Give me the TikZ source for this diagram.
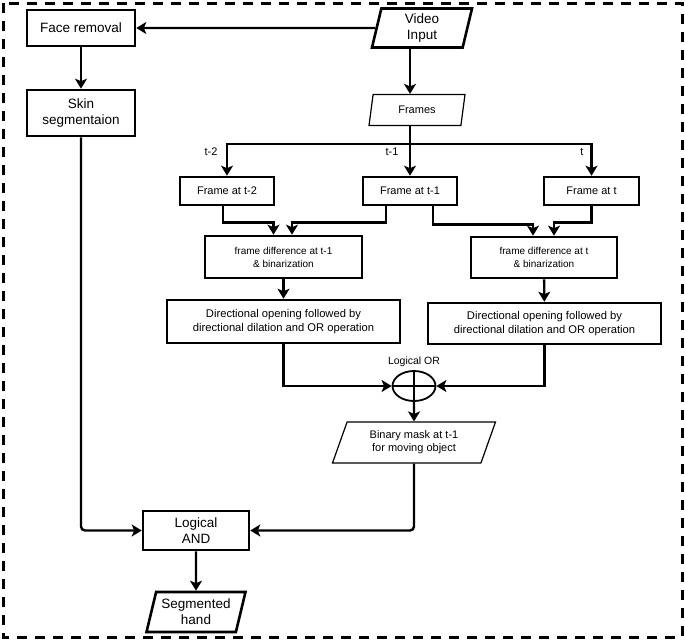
\documentclass[tikz,border=0pt]{standalone}
\usepackage{fontspec}
\setmainfont{Liberation Sans}
\usetikzlibrary{arrows.meta,positioning,shapes.geometric}

\begin{document}
\begin{tikzpicture}[x=1pt,y=-1pt,
    font=\fontsize{11}{13}\selectfont,
    block/.style={draw, line width=2.6pt, align=center, inner sep=2pt},
    bigblock/.style={block, font=\fontsize{13.5}{16}\selectfont},
    para/.style={draw, trapezium, trapezium stretches body, align=center, inner sep=1pt},
    arr/.style={-{Stealth[length=10pt,width=12pt,inset=2.5pt]}, line width=2.4pt}]

      \useasboundingbox (0,0) rectangle (685,640);
      \draw[line width=3pt, dash pattern=on 10pt off 8pt] (3,3) rectangle (682,637);

      % left column
      \node[bigblock, minimum width=108, minimum height=36] (face) at (81,28) {Face removal};
      \node[bigblock, minimum width=108, minimum height=46] (skin) at (81,113) {Skin\\segmentaion};

      % inputs
      \node[para, bigblock, trapezium, trapezium left angle=74, trapezium right angle=106,
            minimum width=100, minimum height=39] (vid) at (422,28) {Video\\Input};
      \node[para, line width=1.2pt, trapezium left angle=67, trapezium right angle=113,
            minimum width=96, minimum height=31] (frames) at (417,110) {Frames};

      % frames
      \node[block, minimum width=94, minimum height=28] (fr2) at (227,191) {Frame at t-2};
      \node[block, minimum width=94, minimum height=28] (fr1) at (410,191) {Frame at t-1};
      \node[block, minimum width=95, minimum height=28] (fr0) at (591.5,191) {Frame at t};
      \coordinate (split) at (410,144);
      \node (lt2) at (211,152) {t-2};
      \node (lt1) at (392,152) {t-1};
      \node (lt0) at (582,152) {t};

      % differences
      \node[block, font=\fontsize{10}{13}\selectfont, minimum width=157, minimum height=42] (fd1) at (283.5,257)
            {frame difference at t-1\\\& binarization};
      \node[block, font=\fontsize{10}{13}\selectfont, minimum width=146, minimum height=41] (fd2) at (544,257.5)
            {frame difference at t\\\& binarization};
      \node[block, font=\fontsize{11.2}{14}\selectfont, minimum width=233, minimum height=43] (do1) at (283.5,321.5)
            {Directional opening followed by\\directional dilation and OR operation};
      \node[block, font=\fontsize{11.2}{14}\selectfont, minimum width=233, minimum height=41] (do2) at (544.5,323.5)
            {Directional opening followed by\\directional dilation and OR operation};

      % logical OR and mask
      \node[draw, ellipse, line width=1.8pt, minimum width=43, minimum height=30, inner sep=0pt,
            label={[font=\fontsize{10.5}{12}\selectfont]above:Logical OR}] (or) at (414,386) {};
      \draw[line width=1.8pt] (or.north) -- (or.south) (or.west) -- (or.east);
      \node[para, line width=1.2pt, trapezium left angle=60, trapezium right angle=120,
            minimum width=163, minimum height=41] (mask) at (414,442.5) {Binary mask at t-1\\for moving object};

      % output
      \node[bigblock, minimum width=106, minimum height=39] (and) at (196,530.5) {Logical\\AND};
      \node[para, bigblock, trapezium, trapezium left angle=71, trapezium right angle=109,
            minimum width=99, minimum height=40, inner sep=1pt] (hand) at (196,612) {Segmented\\hand};

      % connectors
      \draw[arr] (vid.west) -- (face.east);
      \draw[arr] (face) -- (skin);
      \draw[arr] (vid.south -| fr1) -- (frames.north -| fr1);
      \draw[arr] (frames.south -| fr1) -- (fr1.north);
      \draw[arr] (split) -| (fr2.north);
      \draw[arr] (split) -| (fr0.north);

      \draw[arr] ([xshift=-4pt]fr2.south) -- ++(0,16) -| ([xshift=-10pt]fd1.north);
      \draw[arr] ([xshift=-24pt]fr1.south) -- ++(0,16) -| ([xshift=8.5pt]fd1.north);
      \draw[arr] ([xshift=23pt]fr1.south) -- ++(0,18) -| ([xshift=-11pt]fd2.north);
      \draw[arr] (fr0.south) -- ++(0,16) -| ([xshift=10pt]fd2.north);

      \draw[arr] (fd1) -- (do1);
      \draw[arr] (fd2) -- (do2);
      \draw[arr] (do1.south) |- (or.west);
      \draw[arr] (do2.south) |- (or.east);
      \draw[arr] (or.south) -- (mask.north);

      \draw[arr, rounded corners=4pt] (mask.south) |- (and.east);
      \draw[arr, rounded corners=4pt] (skin.south) |- (and.west);
      \draw[arr] (and) -- (hand);
    \end{tikzpicture}
\end{document}
